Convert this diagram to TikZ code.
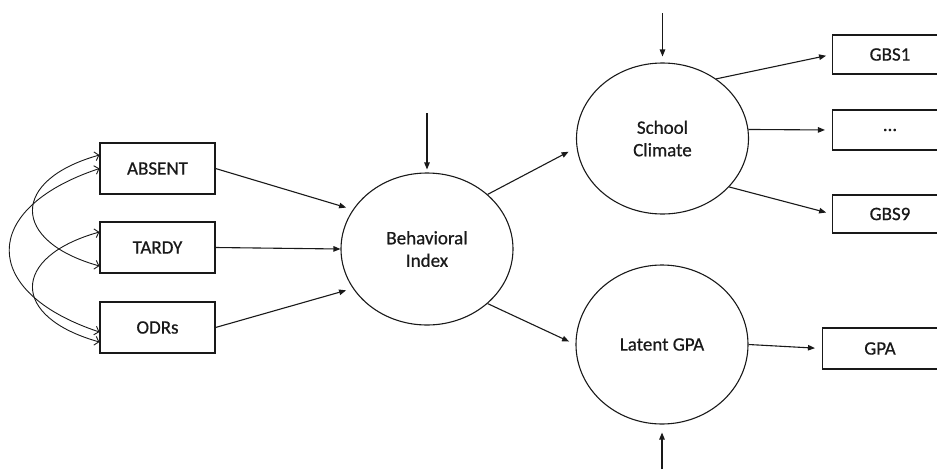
\documentclass[tikz,border=0pt]{standalone}
\usepackage{fontspec}
\setmainfont{Carlito}[FakeBold=0.6]
\usetikzlibrary{arrows.meta,shapes.geometric}

\providecommand*{\boxW}{}
\providecommand*{\ovalW}{}
\renewcommand*{\boxW}{115pt}
\renewcommand*{\ovalW}{172pt}

\tikzset{
  obs/.style={draw,black!90,line width=1.1pt,minimum width=\boxW,
    minimum height=51pt,inner sep=0pt,text=black!90},
  lat/.style={draw,black!90,ellipse,line width=1.1pt,minimum width=\ovalW,
    minimum height=152pt,inner sep=0pt,align=center,text=black!90},
  path/.style={black!90,line width=1.1pt,-{Triangle[length=7pt,width=5.5pt]}},
  cov/.style={black!90,line width=0.9pt,
    {Straight Barb[length=4pt,width=9pt]}-{Straight Barb[length=4pt,width=9pt]}}
}

\begin{document}
\begin{tikzpicture}[x=1pt,y=-1pt,font=\fontsize{19}{22.5}\selectfont]
  \useasboundingbox (0,0) rectangle (937,469);
  \clip (0,0) rectangle (937,469);

%left indicators
  \node [obs] (absent) at (157.5,168.5) {ABSENT};
  \node [obs] (tardy) at (157.5,247.5) {TARDY};
  \node [obs] (odrs) at (157.5,327.5) {ODRs};

%latent variables
  \node [lat] (behav) at (427,249) {Behavioral\\Index};
  \node [lat,minimum height=151pt] (school) at (662.5,138.5) {School\\Climate};
  \node [lat,minimum height=159pt] (latgpa) at (662,344.5) {Latent GPA};

%right indicators
  \node [obs,minimum height=39pt] (gbs1) at (890,54.5) {GBS1};
  \node [obs,minimum height=40pt] (gbsdots) at (890,130) {…};
  \node [obs,minimum height=38pt] (gbs9) at (890,214) {GBS9};
  \node [obs,minimum height=41pt] (gpa) at (880,348.5) {GPA};

%disturbances
  \coordinate (dbehav) at (427,113);
  \coordinate (dschool) at (662.5,13);
  \coordinate (dgpa) at (662,469);

%covariances
  \draw [cov] ([yshift=13.5pt]absent.west) .. controls +(-89,25) and +(-89,-25) .. ([yshift=-18.5pt]tardy.west);
  \draw [cov] (absent.west) .. controls +(-120,40) and +(-120,-40) .. ([yshift=-4.5pt]odrs.west);
  \draw [cov] ([yshift=15.5pt]tardy.west) .. controls +(-89,25) and +(-89,-25) .. ([yshift=-14.5pt]odrs.west);

%paths
  \draw [path,shorten >=7pt] (absent.east) -- (behav.152);
  \draw [path] (tardy.east) -- (behav.west);
  \draw [path,shorten >=7pt] (odrs.east) -- (behav.208);
  \draw [path,shorten >=3pt] (dbehav) -- (behav.north);

  \draw [path,shorten >=9pt] (behav.42) -- (school.186);
  \draw [path,shorten >=7pt] (behav.-42) -- (latgpa.west);

  \draw [path,shorten >=6pt] (dschool) -- (school.north);
  \draw [path,shorten >=6pt] (school.48) -- (gbs1.west);
  \draw [path,shorten >=7pt] (school.6) -- (gbsdots.west);
  \draw [path,shorten >=6pt] (school.-36) -- (gbs9.west);

  \draw [path,shorten >=7pt] (latgpa.east) -- (gpa.west);
  \draw [path,shorten >=8pt] (dgpa) -- (latgpa.south);
\end{tikzpicture}
\end{document}
